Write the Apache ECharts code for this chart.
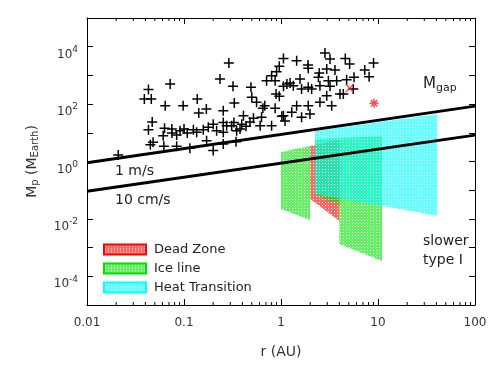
<!DOCTYPE html>
<html>
<head>
<meta charset="utf-8">
<script src="https://cdn.jsdelivr.net/npm/echarts@6/dist/echarts.min.js"></script>
<style>
  html, body { margin: 0; padding: 0; background: #fff; }
  #main { width: 491px; height: 368px; }
</style>
</head>
<body>
<div id="main"></div>
<script>
// observed planets: [r (AU), Mp (MEarth)]
const planets = [
  [0.021, 1.7], [0.043, 320], [0.039, 150], [0.046, 150], [0.072, 500], [0.064, 88],
  [0.098, 88], [0.137, 150], [0.29, 2700], [0.235, 750], [0.32, 420], [0.49, 385],
  [0.50, 173], [0.33, 110], [0.17, 67], [0.142, 49], [0.254, 59], [0.41, 39],
  [0.52, 32], [0.63, 35], [0.65, 71], [0.68, 88], [0.87, 71], [1.02, 38],
  [0.047, 24], [0.043, 12.8], [0.063, 14.3], [0.048, 4.7], [0.045, 3.8], [0.062, 3.4],
  [0.084, 3.4], [0.115, 2.9], [0.171, 5.3], [0.20, 2.4], [0.254, 4.1], [0.344, 4.9],
  [0.075, 9.8], [0.084, 8.4], [0.091, 11.8], [0.10, 13.6], [0.108, 9.8], [0.125, 12.8],
  [0.135, 10.4], [0.158, 12.8], [0.178, 15.6], [0.20, 20], [0.217, 11.8], [0.254, 23],
  [0.275, 17.7], [0.31, 17.7], [0.327, 23], [0.394, 20], [0.378, 13.6], [0.436, 16.8],
  [0.479, 24], [0.61, 17.7], [0.80, 17.7], [0.254, 10.4], [0.349, 11.8], [0.061, 7.9],
  [0.075, 13.6],
  [1.06, 3900], [1.45, 3250], [1.9, 2300], [2.84, 6000], [3.2, 3700], [4.6, 3900],
  [5.1, 2500], [9.0, 2700], [7.3, 1540], [8.1, 900], [2.96, 1670], [3.6, 1540],
  [2.48, 1210], [1.91, 1770], [0.96, 2070], [0.90, 1350], [0.80, 980], [0.71, 650],
  [0.87, 650], [1.15, 500], [1.24, 540], [1.34, 440], [1.57, 750], [1.06, 420],
  [0.89, 225], [0.96, 187], [1.63, 336], [1.91, 385], [2.07, 336], [2.43, 860],
  [2.52, 440], [3.08, 650], [3.2, 420], [3.75, 650], [4.75, 710], [5.66, 860],
  [4.06, 225], [2.96, 196], [2.52, 116], [3.33, 88], [4.39, 225], [5.56, 336],
  [1.91, 88], [1.45, 88], [1.29, 52], [1.06, 39], [1.63, 35], [1.99, 45],
  [1.10, 26], [0.56, 116]
];
const solarX = [[5.1, 355]];
const solarStar = [[9.1, 107]];

const line1ms = [[0.01, 0.9], [100, 85]];
const line10cms = [[0.01, 0.092], [100, 8.3]];

// trap regions (polygon corners, r in AU, Mp in MEarth)
const deadZone = [[2.0, 3.5], [4.0, 5.6], [4.0, 0.0085], [2.0, 0.049]];
const iceLine1 = [[1.0, 2.14], [2.0, 3.47], [2.0, 0.0092], [1.0, 0.022]];
const iceLine2 = [[2.24, 6], [11, 7.7], [11, 0.00034], [4.0, 0.00134], [4.0, 0.03], [2.24, 0.07]];
const heatTrans = [[2.24, 11.6], [41, 45], [41, 0.013], [2.24, 0.074]];

const xTickLabels = ['0.01', '0.1', '1', '10', '100'];
const legendNames = ['Dead Zone', 'Ice line', 'Heat Transition'];

const FONT = 'DejaVu Sans';

function hatch(r, g, b, a) {
  const c = document.createElement('canvas');
  c.width = 3; c.height = 3;
  const ctx = c.getContext('2d');
  ctx.fillStyle = 'rgba(' + r + ',' + g + ',' + b + ',' + a + ')';
  ctx.fillRect(0, 0, 3, 3);
  ctx.clearRect(1, 1, 1, 1);
  ctx.fillStyle = 'rgba(255,255,255,0.7)';
  ctx.fillRect(1, 1, 1, 1);
  return { image: c, repeat: 'repeat' };
}
const redFill = hatch(255, 0, 0, 0.6);
const greenFill = hatch(0, 230, 0, 0.6);
const cyanFill = hatch(0, 255, 255, 0.62);

function regionSeries(name, pts, fill, border) {
  return {
    name: name,
    type: 'custom',
    xAxisIndex: 0, yAxisIndex: 0,
    data: pts,
    encode: { x: 0, y: 1 },
    itemStyle: { color: fill, borderColor: border, borderWidth: 1 },
    renderItem: function (params, api) {
      if (params.dataIndex !== 0) return;
      return {
        type: 'polygon',
        shape: { points: pts.map(p => api.coord(p)) },
        style: { fill: fill, stroke: null }
      };
    },
    silent: true
  };
}

// minor ticks 2..9 on the log r axis
const minorX = [];
for (let e = -2; e < 2; e++) {
  for (let m = 2; m <= 9; m++) minorX.push([m * Math.pow(10, e), 1]);
}

const chart = echarts.init(document.getElementById('main'));

const logAxisBase = {
  type: 'log',
  logBase: 10,
  axisLine: { show: true, onZero: false, lineStyle: { color: '#000', width: 1 } },
  axisTick: { show: true, inside: true, length: 6, lineStyle: { color: '#000', width: 1 } },
  splitLine: { show: false },
  minorTick: { show: false }
};

chart.setOption({
  animation: false,
  backgroundColor: '#fff',
  grid: { left: 87, right: 16, top: 18, bottom: 63, outerBoundsMode: 'none' },
  legend: {
    orient: 'vertical',
    left: 98,
    top: 238,
    itemWidth: 42,
    itemHeight: 10,
    itemGap: 6,
    icon: 'rect',
    selectedMode: false,
    data: legendNames,
    textStyle: { fontFamily: FONT, fontSize: 13, color: '#222', padding: [0, 0, 0, 3] }
  },
  xAxis: [
    Object.assign({}, logAxisBase, {
      min: 0.01, max: 100, splitNumber: 4, position: 'bottom',
      axisLabel: {
        fontFamily: FONT, fontSize: 12, color: '#333', margin: 12,
        formatter: v => xTickLabels[Math.round(Math.log10(v)) + 2]
      },
      name: 'r (AU)',
      nameLocation: 'middle',
      nameGap: 40,
      nameMoveOverlap: false,
      nameTextStyle: { fontFamily: FONT, fontSize: 14, color: '#333' }
    }),
    Object.assign({}, logAxisBase, {
      min: 0.01, max: 100, splitNumber: 4, position: 'top',
      axisLabel: { show: false }
    })
  ],
  yAxis: [
    Object.assign({}, logAxisBase, {
      min: 1e-5, max: 1e5, interval: 1, position: 'left',
      axisLabel: {
        margin: 9,
        padding: [9, 0, 0, 0],
        formatter: function (v) {
          const e = Math.round(Math.log10(v));
          if (e % 2 !== 0 || Math.abs(e) > 4) return '';
          return '{b|10}{s|' + e + '}';
        },
        rich: {
          b: { fontFamily: FONT, fontSize: 12, color: '#333', lineHeight: 12, padding: [7, 0, 0, 0] },
          s: { fontFamily: FONT, fontSize: 9, color: '#333', lineHeight: 10, verticalAlign: 'top' }
        }
      },
      name: '{m|M}{sub|p}{m| (M}{sub|Earth}{m|)}',
      nameLocation: 'middle',
      nameRotate: 90,
      nameGap: 47,
      nameMoveOverlap: false,
      nameTextStyle: {
        rich: {
          m: { fontFamily: FONT, fontSize: 14, color: '#333', lineHeight: 16 },
          sub: { fontFamily: FONT, fontSize: 10, color: '#333', lineHeight: 10, verticalAlign: 'bottom' }
        }
      }
    }),
    Object.assign({}, logAxisBase, {
      min: 1e-5, max: 1e5, interval: 1, position: 'right',
      axisLabel: { show: false }
    })
  ],
  graphic: [
    {
      type: 'text', left: 423, top: 77, silent: true,
      style: {
        text: '{m|M}{s|gap}',
        rich: {
          m: { fontFamily: FONT, fontSize: 15, fill: '#222', lineHeight: 18 },
          s: { fontFamily: FONT, fontSize: 11, fill: '#222', lineHeight: 11, verticalAlign: 'bottom' }
        }
      }
    },
    { type: 'text', left: 115, top: 164, silent: true,
      style: { text: '1 m/s', font: '14px "DejaVu Sans"', fill: '#222' } },
    { type: 'text', left: 115, top: 193, silent: true,
      style: { text: '10 cm/s', font: '14px "DejaVu Sans"', fill: '#222' } },
    { type: 'text', left: 423, top: 232, silent: true,
      style: { text: 'slower\ntype I', font: '14px "DejaVu Sans"', fill: '#222', lineHeight: 19 } }
  ],
  series: [
    regionSeries('Dead Zone', deadZone, redFill, '#ff0000'),
    regionSeries('Ice line', iceLine1, greenFill, '#00e000'),
    regionSeries('Ice line', iceLine2, greenFill, '#00e000'),
    regionSeries('Heat Transition', heatTrans, cyanFill, '#00ffff'),
    {
      type: 'custom',
      xAxisIndex: 0, yAxisIndex: 0,
      data: minorX,
      encode: { x: 0, y: 1 },
      silent: true,
      clip: false,
      renderItem: function (params, api) {
        const x = api.value(0);
        const b = api.coord([x, 1e-5]);
        const t = api.coord([x, 1e5]);
        return {
          type: 'group',
          children: [
            { type: 'line', shape: { x1: b[0], y1: b[1], x2: b[0], y2: b[1] - 3 }, style: { stroke: '#000', lineWidth: 1 } },
            { type: 'line', shape: { x1: t[0], y1: t[1], x2: t[0], y2: t[1] + 3 }, style: { stroke: '#000', lineWidth: 1 } }
          ]
        };
      }
    },
    {
      type: 'line', data: line1ms, showSymbol: false, silent: true,
      lineStyle: { color: '#000', width: 3 }, z: 5
    },
    {
      type: 'line', data: line10cms, showSymbol: false, silent: true,
      lineStyle: { color: '#000', width: 3 }, z: 5
    },
    {
      type: 'scatter', data: planets, silent: true, z: 6,
      symbol: 'path://M0,5L10,5M5,0L5,10', symbolSize: 10,
      itemStyle: { color: 'none', borderColor: '#000', borderWidth: 1.5, opacity: 1 }
    },
    {
      type: 'scatter', data: solarX, silent: true, z: 6,
      symbol: 'path://M0,0L10,10M10,0L0,10', symbolSize: 8,
      itemStyle: { color: 'none', borderColor: '#ff2020', borderWidth: 1.5 }
    },
    {
      type: 'scatter', data: solarStar, silent: true, z: 6,
      symbol: 'path://M0,5L10,5M5,0L5,10M1.5,1.5L8.5,8.5M8.5,1.5L1.5,8.5', symbolSize: 9,
      itemStyle: { color: 'none', borderColor: '#ff2020', borderWidth: 1.5 }
    }
  ]
});
</script>
</body>
</html>
